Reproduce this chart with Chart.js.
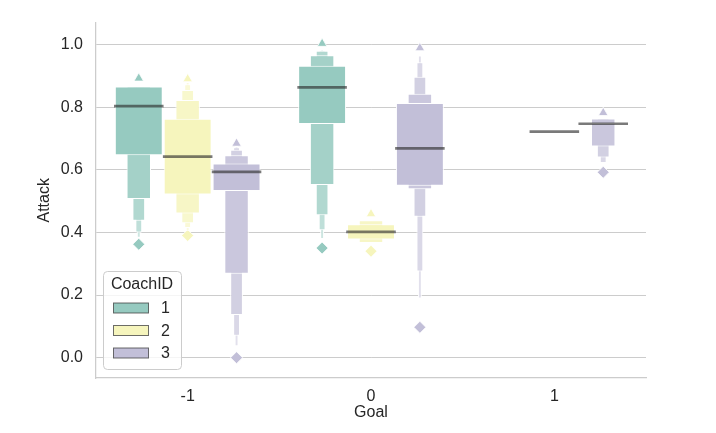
<!DOCTYPE html>
<html>
<head>
<meta charset="utf-8">
<script src="https://cdn.jsdelivr.net/npm/chart.js@4.4.0/dist/chart.umd.min.js"></script>
<style>
  body { margin: 0; background: #ffffff; }
  #wrap { width: 716px; height: 433px; }
</style>
</head>
<body>
<div id="wrap"><canvas id="grafico" width="716" height="433"></canvas></div>
<script>
// categorias (Goal) e grupos (CoachID)
const goals = [-1, 0, 1];
const coaches = ['1', '2', '3'];
const yTicks = [0.0, 0.2, 0.4, 0.6, 0.8, 1.0];

// medianas por técnico, uma por Goal (null = sem dados)
const medianCoach1 = [0.803, 0.863, null];
const medianCoach2 = [0.642, 0.402, 0.722];
const medianCoach3 = [0.593, 0.668, 0.747];

// letter values [baixo, alto] por Goal, nível mais interno primeiro
const levelsCoach1 = [
  [[0.646, 0.866], [0.507, 0.866], [0.437, 0.866], [0.400, 0.866], [0.383, 0.866]],
  [[0.746, 0.932], [0.551, 0.966], [0.455, 0.980], [0.407, 0.982], [0.379, 0.985]],
  []
];
const levelsCoach2 = [
  [[0.521, 0.763], [0.460, 0.823], [0.429, 0.855], [0.414, 0.873], [0.404, 0.880]],
  [[0.377, 0.426], [0.366, 0.439]],
  []
];
const levelsCoach3 = [
  [[0.532, 0.620], [0.268, 0.646], [0.136, 0.664], [0.070, 0.672], [0.036, 0.676]],
  [[0.549, 0.813], [0.538, 0.843], [0.450, 0.897], [0.275, 0.943], [0.189, 0.965]],
  [[0.745, 0.749], [0.674, 0.764], [0.639, 0.764], [0.622, 0.764]]
];

// outliers acima e abaixo das caixas
const outUpCoach1 = [[0.892], [1.003], []];
const outUpCoach2 = [[0.890], [0.459], []];
const outUpCoach3 = [[0.684], [0.989], [0.782]];
const outDownCoach1 = [[0.362], [0.350], []];
const outDownCoach2 = [[0.390], [0.340], []];
const outDownCoach3 = [[0.000], [0.097], [0.592]];

const medians = [medianCoach1, medianCoach2, medianCoach3];
const levels = [levelsCoach1, levelsCoach2, levelsCoach3];
const outUp = [outUpCoach1, outUpCoach2, outUpCoach3];
const outDown = [outDownCoach1, outDownCoach2, outDownCoach3];

const coachColors = [[150, 202, 192], [246, 245, 189], [194, 191, 216]];
const textColor = '#262626';
const gridColor = '#cccccc';
const fonte = { family: "'Liberation Sans', Arial, sans-serif", size: 16 };

function rgb(c) {
    return `rgb(${c[0]}, ${c[1]}, ${c[2]})`;
}

// clareia a cor em direção ao branco (níveis externos mais claros)
function clarear(c, t) {
    return rgb(c.map(v => Math.round(v + (255 - v) * t)));
}

// cada técnico ocupa 0.8/3 de uma categoria
const SLOT = 0.8 / coaches.length;
const maxLevels = 5;
const posicao = (gi, ci) => goals[gi] + (ci - (coaches.length - 1) / 2) * SLOT;

const datasets = [];

// medianas primeiro: desenhadas por cima de tudo
coaches.forEach((c, ci) => {
    const pts = [];
    medians[ci].forEach((m, gi) => {
        if (m !== null) pts.push({ x: posicao(gi, ci), y: [m - 0.0033, m + 0.0033] });
    });
    datasets.push({
        type: 'bar',
        data: pts,
        backgroundColor: 'rgba(40, 40, 40, 0.62)',
        borderWidth: 0,
        grouped: false,
        barPercentage: 1.0,
        categoryPercentage: 1.0,
    });
});

// caixas de cada nível, largura cai pela metade a cada nível
for (let lv = 0; lv < maxLevels; lv++) {
    coaches.forEach((c, ci) => {
        const pts = [];
        levels[ci].forEach((g, gi) => {
            if (g[lv]) pts.push({ x: posicao(gi, ci), y: g[lv] });
        });
        datasets.push({
            type: 'bar',
            data: pts,
            backgroundColor: clarear(coachColors[ci], 0.13 * lv),
            borderColor: '#ffffff',
            borderWidth: 1,
            borderSkipped: false,
            grouped: false,
            barPercentage: 0.96 * Math.pow(2, -lv) + 0.02,
            categoryPercentage: 1.0,
        });
    });
}

// outliers
coaches.forEach((c, ci) => {
    const up = [];
    const down = [];
    goals.forEach((g, gi) => {
        outUp[ci][gi].forEach(v => up.push({ x: posicao(gi, ci), y: v }));
        outDown[ci][gi].forEach(v => down.push({ x: posicao(gi, ci), y: v }));
    });
    datasets.push({
        type: 'scatter', data: up,
        pointStyle: 'triangle', pointRadius: 5.5,
        backgroundColor: rgb(coachColors[ci]), borderColor: '#ffffff', borderWidth: 0.8,
    });
    datasets.push({
        type: 'scatter', data: down,
        pointStyle: 'rectRot', pointRadius: 6,
        backgroundColor: rgb(coachColors[ci]), borderColor: '#ffffff', borderWidth: 0.8,
    });
});

// legenda no canto inferior esquerdo, estilo matplotlib
const legendaCoach = {
    id: 'legendaCoach',
    afterDraw(chart) {
        const { ctx, chartArea } = chart;
        const w = 78, h = 98;
        const x0 = chartArea.left + 7;
        const y0 = chartArea.bottom - 9 - h;
        ctx.save();
        ctx.beginPath();
        ctx.roundRect(x0 + 0.5, y0 + 0.5, w, h, 4);
        ctx.fillStyle = 'rgba(255, 255, 255, 0.8)';
        ctx.fill();
        ctx.strokeStyle = gridColor;
        ctx.lineWidth = 1;
        ctx.stroke();

        ctx.font = `${fonte.size}px ${fonte.family}`;
        ctx.fillStyle = textColor;
        ctx.textAlign = 'center';
        ctx.textBaseline = 'middle';
        ctx.fillText('CoachID', x0 + w / 2, y0 + 14);

        coaches.forEach((c, ci) => {
            const yc = y0 + 37 + ci * 22.5;
            ctx.fillStyle = rgb(coachColors[ci]);
            ctx.fillRect(x0 + 10.5, yc - 5, 35, 10);
            ctx.strokeStyle = 'rgba(60, 60, 60, 0.75)';
            ctx.lineWidth = 1;
            ctx.strokeRect(x0 + 10.5, yc - 5, 35, 10);
            ctx.fillStyle = textColor;
            ctx.textAlign = 'left';
            ctx.fillText(c, x0 + 58, yc + 1);
        });
        ctx.restore();
    }
};

new Chart(document.getElementById('grafico').getContext('2d'), {
    type: 'bar',
    data: { datasets: datasets },
    options: {
        responsive: false,
        animation: false,
        layout: { padding: { left: 0, right: 70, top: 20, bottom: 0 } },
        plugins: {
            legend: { display: false },
            tooltip: { enabled: false },
        },
        scales: {
            x: {
                type: 'linear',
                min: -1.5,
                max: 1.5,
                offset: false,
                grid: { display: false },
                border: { display: true, color: gridColor, width: 1.25 },
                afterBuildTicks: s => { s.ticks = goals.map(v => ({ value: v })); },
                ticks: { font: fonte, color: textColor, padding: 1, callback: v => String(v) },
                title: { display: true, text: 'Goal', font: fonte, color: textColor, padding: { top: 0, bottom: 11 } },
                afterFit: s => { s.height = 55; },
            },
            y: {
                min: -0.065,
                max: 1.07,
                stacked: false,
                grid: { color: gridColor, lineWidth: 1, drawTicks: false },
                border: { display: true, color: gridColor, width: 1.25 },
                ticks: { font: fonte, color: textColor, padding: 13, callback: v => v.toFixed(1) },
                afterBuildTicks: s => { s.ticks = yTicks.map(v => ({ value: v })); },
                title: { display: true, text: 'Attack', font: fonte, color: textColor, padding: { top: 35, bottom: 0 } },
                afterFit: s => { s.width = 96; },
            },
        },
    },
    plugins: [legendaCoach],
});
</script>
</body>
</html>
